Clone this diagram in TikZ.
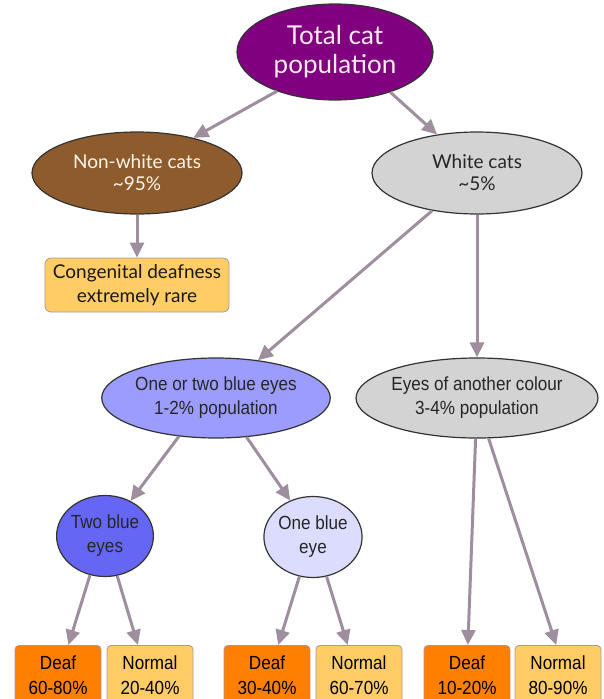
\documentclass[tikz,border=0pt]{standalone}
\usepackage{fontspec}
\setmainfont{Lato}
\newfontfamily\narrowfont[FakeStretch=0.9]{Liberation Sans}
\usetikzlibrary{shapes.geometric,arrows.meta,calc}
\definecolor{catpurple}{HTML}{800080}
\definecolor{catbrown}{HTML}{8E5B2C}
\definecolor{catgrey}{HTML}{D3D3D3}
\definecolor{paleorange}{HTML}{FFCC66}
\definecolor{deeporange}{HTML}{FF8000}
\definecolor{midblue}{HTML}{9C9CFF}
\definecolor{deepblue}{HTML}{6666F5}
\definecolor{paleblue}{HTML}{DCDCFF}
\definecolor{arrowgrey}{HTML}{9E8E9E}
\definecolor{boxedge}{HTML}{A8989E}

\begin{document}
\begin{tikzpicture}[x=1pt,y=-1pt,
	oval/.style={ellipse,draw=black!80,line width=1.2pt,inner sep=0pt,align=center},
	bigoval/.style={oval,minimum width=196pt,minimum height=96pt,font=\fontsize{26}{29}\selectfont},
	catoval/.style={oval,minimum width=210pt,minimum height=82pt,font=\fontsize{19}{22}\selectfont},
	eyeoval/.style={oval,minimum width=212pt,minimum height=80pt,font=\narrowfont\fontsize{19}{24}\selectfont},
	eyeball/.style={oval,minimum width=94pt,minimum height=81pt,font=\narrowfont\fontsize{19}{24}\selectfont},
	result/.style={draw=boxedge,rounded corners=4pt,line width=0.8pt,minimum width=86pt,minimum height=60pt,inner sep=0pt,align=center,anchor=north,font=\narrowfont\fontsize{19}{25}\selectfont},
	link/.style={draw=arrowgrey,line width=3pt,-{Triangle[length=15pt,width=14pt]}}]
	\path[fill=white,use as bounding box] (0,0) rectangle (603,699);
	\node (total) at (335,52) [bigoval,fill=catpurple,text=pink!30] {Total cat\\population};
	\node (nonwhite) at (137,173) [catoval,fill=catbrown,text=orange!8] {Non-white cats\\\textasciitilde95\%};
	\node (white) at (477,173) [catoval,fill=catgrey,text=black!85] {White cats\\\textasciitilde5\%};
	\node (rare) at (137,285) [draw=boxedge,fill=paleorange,rounded corners=6pt,line width=0.8pt,minimum width=184pt,minimum height=54pt,inner sep=0pt,align=center,text=black!90,font=\fontsize{19}{24}\selectfont] {Congenital deafness\\extremely rare};
	\node (bothblue) at (216,398) [eyeoval,fill=midblue,text=black!85] {One or two blue eyes\\1-2\% population};
	\node (othereyes) at (477,398) [eyeoval,fill=catgrey,minimum width=214pt,text=black!85] {Eyes of another colour\\3-4\% population};
	\node (twoblue) at (105,536) [eyeball,fill=deepblue,text=black!85] {Two blue\\eyes};
	\node (oneblue) at (313,537) [eyeball,fill=paleblue,text=black!85] {One blue\\eye};
	\node (deafA) at (58,645) [result,fill=deeporange] {Deaf\\60-80\%};
	\node (normalA) at (150,645) [result,fill=paleorange] {Normal\\20-40\%};
	\node (deafB) at (267,645) [result,fill=deeporange] {Deaf\\30-40\%};
	\node (normalB) at (359,645) [result,fill=paleorange] {Normal\\60-70\%};
	\node (deafC) at (467,645) [result,fill=deeporange] {Deaf\\10-20\%};
	\node (normalC) at (558,645) [result,fill=paleorange] {Normal\\80-90\%};
	\draw[link] (total.214) -- (nonwhite.32);
	\draw[link] (total.324) -- (white.136);
	\draw[link] (nonwhite) -- (rare);
	\draw[link] (white.220) -- (bothblue.42);
	\draw[link] (white) -- (othereyes);
	\draw[link] (bothblue.226) -- (twoblue.54);
	\draw[link] (bothblue.308) -- (oneblue.122);
	\draw[link] (twoblue.249) -- ($(deafA.north west)!0.62!(deafA.north east)$);
	\draw[link] (twoblue.287) -- ($(normalA.north west)!0.36!(normalA.north east)$);
	\draw[link] (oneblue.251) -- ($(deafB.north west)!0.63!(deafB.north east)$);
	\draw[link] (oneblue.289) -- ($(normalB.north west)!0.37!(normalB.north east)$);
	\draw[link] (othereyes.268) -- ($(deafC.north west)!0.51!(deafC.north east)$);
	\draw[link] (othereyes.286) -- ($(normalC.north west)!0.48!(normalC.north east)$);
\end{tikzpicture}
\end{document}
